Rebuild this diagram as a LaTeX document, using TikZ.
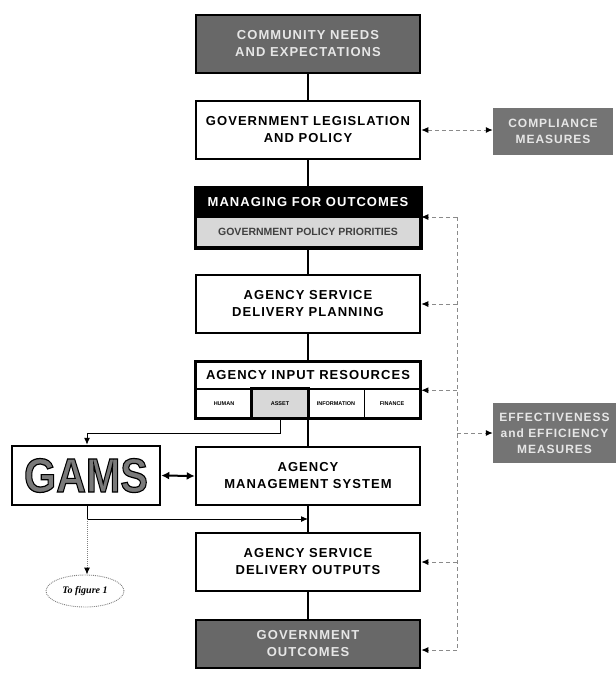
\documentclass[tikz,border=0pt]{standalone}
\usepackage{fontspec}
\setmainfont{Liberation Sans}
\newfontfamily\mainlsp[LetterSpace=8]{Liberation Sans}
\newfontfamily\figfont{Liberation Serif}
\usetikzlibrary{arrows.meta,shapes.geometric}
\definecolor{boxdark}{HTML}{686868}
\definecolor{measfill}{HTML}{747474}
\definecolor{boxtext}{HTML}{E6E6E6}
\definecolor{subfill}{HTML}{D8D8D8}
\definecolor{dashgray}{HTML}{8A8A8A}
\definecolor{gamsgray}{HTML}{7A7A7A}
\newcommand\outlinetext[1]{\special{pdf:literal direct 0 0 0 RG 1.2 w 2 Tr}#1\special{pdf:literal direct 0 Tr}}
\begin{document}
\begin{tikzpicture}[x=1pt,y=-1pt,
  mainbox/.style={draw, line width=2.5pt, minimum width=224pt, minimum height=58pt,
    align=center, inner sep=0pt, font=\mainlsp\fontsize{13}{17}\selectfont\bfseries},
  darkbox/.style={mainbox, fill=boxdark, text=boxtext},
  cellbox/.style={draw, line width=0.8pt, minimum width=56pt, minimum height=29pt,
    inner sep=0pt, font=\fontsize{5.5}{6}\selectfont\bfseries},
  measbox/.style={fill=measfill, text=boxtext, align=center, inner sep=0pt,
    font=\mainlsp\fontsize{12}{16}\selectfont\bfseries},
  link/.style={line width=2pt},
  thinarr/.style={line width=1pt, -{Latex[length=7pt,width=6pt]}},
  dasharr/.style={draw=dashgray, dash pattern=on 4pt off 3pt, line width=1pt,
    -{Latex[length=7pt,width=6pt,color=black]}},
  dashline/.style={draw=dashgray, dash pattern=on 4pt off 3pt, line width=1pt}
]
\useasboundingbox (0,0) rectangle (616,675);

% main column
\node[darkbox] (comm) at (308,44) {COMMUNITY NEEDS\\AND EXPECTATIONS};
\node[mainbox] (gov) at (308,130) {GOVERNMENT LEGISLATION\\AND POLICY};
\node[mainbox, fill=black, text=white, minimum height=29pt] (mfoh) at (308,202.5) {MANAGING FOR OUTCOMES};
\node[mainbox, fill=subfill, text=black!75, minimum height=30pt,
  font=\fontsize{10.5}{12}\selectfont\bfseries] (mfos) at (308,232) {GOVERNMENT POLICY PRIORITIES};
\draw[line width=2.5pt] (mfoh.north west) rectangle (mfos.south east);
\node[mainbox] (plan) at (308,304) {AGENCY SERVICE\\DELIVERY PLANNING};
\node[mainbox, minimum height=27pt] (airh) at (308,375.5) {AGENCY INPUT RESOURCES};
\node[cellbox] (human) at (224,403.5) {HUMAN};
\node[cellbox, fill=subfill] (asset) at (280,403.5) {ASSET};
\node[cellbox] (info) at (336,403.5) {INFORMATION};
\node[cellbox] (fin) at (392,403.5) {FINANCE};
\draw[line width=2.5pt] (asset.north west) rectangle (asset.south east);
\draw[line width=2.5pt] (airh.north west) rectangle (fin.south east);
\node[mainbox] (ams) at (308,476) {AGENCY\\MANAGEMENT SYSTEM};
\node[mainbox] (outp) at (308,562) {AGENCY SERVICE\\DELIVERY OUTPUTS};
\node[darkbox, minimum height=48pt] (outc) at (308,644) {GOVERNMENT\\OUTCOMES};

% side boxes
\node[mainbox, minimum width=148pt, minimum height=59pt, text=gamsgray,
  font=\fontsize{48}{48}\selectfont\bfseries] (gams) at (86,475.5) {\scalebox{0.86}[1]{\outlinetext{GAMS}}};
\node[measbox, minimum width=120pt, minimum height=47pt] (comp) at (553,131.5) {COMPLIANCE\\MEASURES};
\node[measbox, minimum width=123pt, minimum height=60pt] (eff) at (554.5,433) {EFFECTIVENESS\\and EFFICIENCY\\MEASURES};
\node[ellipse, draw=gray, densely dotted, line width=0.9pt, minimum width=78pt, minimum height=32pt,
  inner sep=0pt, font=\figfont\fontsize{10}{12}\selectfont\bfseries\itshape] (fig) at (85,591) {To figure 1};

% column links
\draw[link] (comm.south) -- (gov.north);
\draw[link] (gov.south) -- (mfoh.north);
\draw[link] (mfos.south) -- (plan.north);
\draw[link] (plan.south) -- (airh.north);
\draw[link] (ams.north |- asset.south) -- (ams.north);
\draw[link] (ams.south) -- (outp.north);
\draw[link] (outp.south) -- (outc.north);

% GAMS links
\coordinate (t1) at (87,433);
\coordinate (t2) at (87,519);
\draw[thinarr] (asset.south) |- (t1) -- (t1 |- gams.north);
\draw[thinarr] (t2 |- gams.south) -- (t2) -- (t2 -| ams.south);
\draw[line width=2pt, {Latex[length=8pt,width=8pt]}-{Latex[length=8pt,width=8pt]}] (gams.east) -- (ams.west);
\draw[draw=gray, densely dotted, line width=1pt, -{Latex[length=7pt,width=6pt,color=black]}] (t2) -- (t2 |- fig.north);

% measures
\draw[dashline, {Latex[length=7pt,width=6pt,color=black]}-{Latex[length=7pt,width=6pt,color=black]}]
  (gov.east) -- (gov.east -| comp.west);
\coordinate (v0) at (457,217);
\coordinate (v1) at (457,650);
\draw[dashline] (v0) -- (v1);
\draw[dasharr] (v0) -- (v0 -| mfoh.east);
\draw[dasharr] (plan.east -| v0) -- (plan.east);
\draw[dasharr] (airh.south east -| v0) -- (airh.south east);
\draw[dasharr] (eff.west -| v0) -- (eff.west);
\draw[dasharr] (outp.east -| v0) -- (outp.east);
\draw[dasharr] (v1) -- (v1 -| outc.east);
\end{tikzpicture}
\end{document}
